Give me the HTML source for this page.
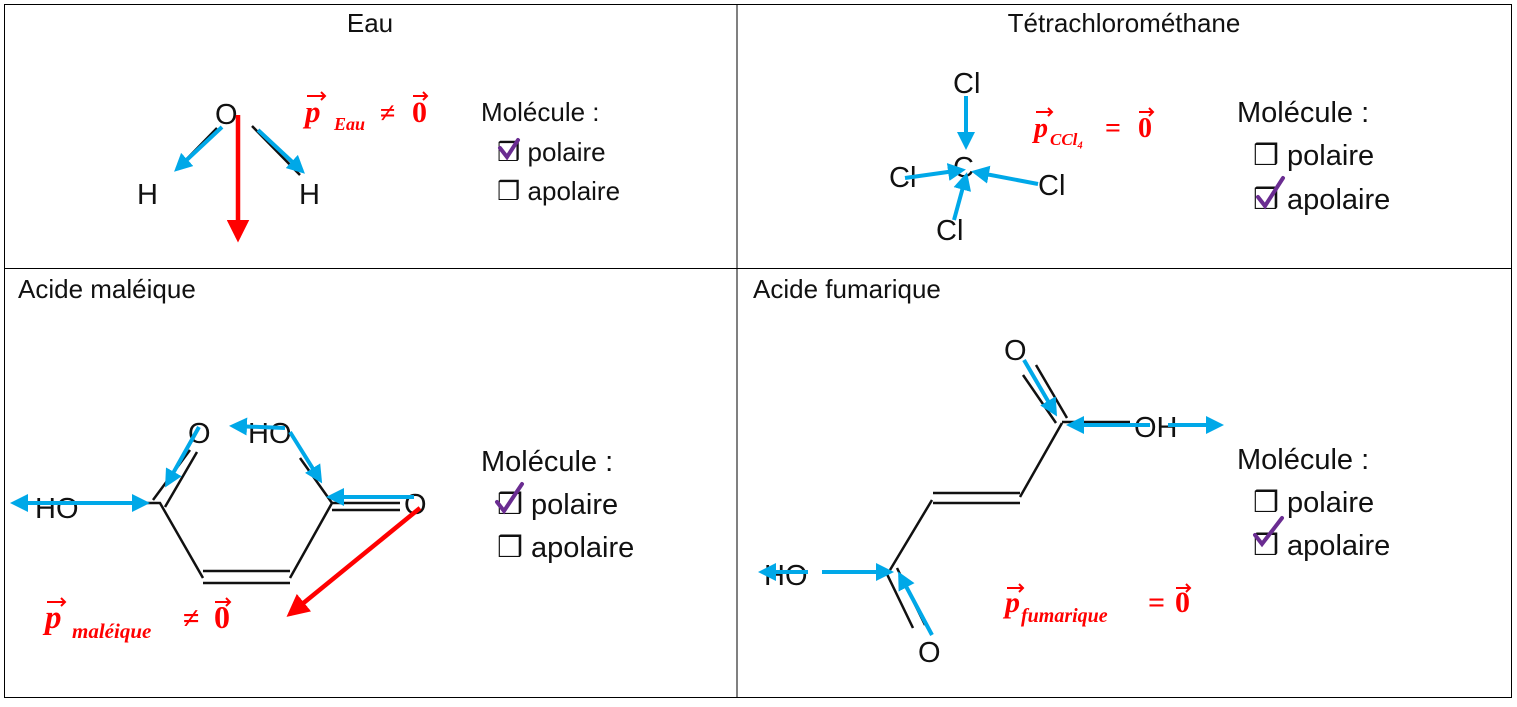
<!DOCTYPE html>
<html><head><meta charset="utf-8"><style>
body{margin:0;background:#fff}
svg text{font-family:"Liberation Sans",sans-serif}
.t{font-size:26px;fill:#111}
.a{font-family:"Liberation Sans",sans-serif;font-size:29px;fill:#111}
.f{font-family:"Liberation Serif",serif;font-weight:bold;font-style:italic;fill:#f00}
.n{font-family:"Liberation Serif",serif;font-weight:bold;fill:#f00}
.b{stroke:#111;stroke-width:2.5;fill:none}
.bl{stroke:#00a8e8;stroke-width:4;fill:none}
.r{stroke:#f00;stroke-width:4.5;fill:none}
.ck{stroke:#6a2c91;stroke-width:4;fill:none;stroke-linecap:round}
.ar{stroke:#f00;stroke-width:2;fill:none}
</style></head><body>
<svg width="1517" height="702" viewBox="0 0 1517 702" xmlns="http://www.w3.org/2000/svg">
<defs>
<marker id="mb" markerWidth="4.5" markerHeight="4.5" refX="3.5" refY="2.25" orient="auto" markerUnits="strokeWidth"><path d="M0,0L4.5,2.25L0,4.5z" fill="#00a8e8"/></marker>
<marker id="mr" markerWidth="5" markerHeight="5" refX="4" refY="2.5" orient="auto" markerUnits="strokeWidth"><path d="M0,0L5,2.5L0,5z" fill="#f00"/></marker>
</defs>
<rect x="4.5" y="4.5" width="1507" height="693" fill="none" stroke="#000" stroke-width="1"/>
<line x1="737" y1="4" x2="737" y2="697" stroke="#000"/>
<line x1="4" y1="268.5" x2="1511" y2="268.5" stroke="#000"/>
<g class="t">
<text x="370" y="32" text-anchor="middle">Eau</text>
<text x="1124" y="32" text-anchor="middle">Tétrachlorométhane</text>
<text x="18" y="298">Acide maléique</text>
<text x="753" y="298">Acide fumarique</text>
<text x="481" y="121">Molécule :</text>
<text x="497" y="161">❒ polaire</text>
<text x="497" y="200">❒ apolaire</text>
<text x="1237" y="122" font-size="29">Molécule :</text>
<text x="1253" y="165" font-size="29">❒ polaire</text>
<text x="1253" y="209" font-size="29">❒ apolaire</text>
<text x="481" y="471" font-size="29">Molécule :</text>
<text x="497" y="514" font-size="29">❒ polaire</text>
<text x="497" y="557" font-size="29">❒ apolaire</text>
<text x="1237" y="469" font-size="29">Molécule :</text>
<text x="1253" y="512" font-size="29">❒ polaire</text>
<text x="1253" y="555" font-size="29">❒ apolaire</text>
</g>
<path class="ck" d="M500,148L507,157L518,140"/>
<path class="ck" d="M1258,197L1265,206L1283,178"/>
<path class="ck" d="M497,502L504,511L522,484"/>
<path class="ck" d="M1255,535L1262,544L1282,518"/>
<!-- Eau -->
<g class="a"><text x="215" y="124">O</text><text x="137" y="204">H</text><text x="299" y="204">H</text></g>
<line class="b" x1="217" y1="128" x2="178" y2="168"/><line class="b" x1="252" y1="126" x2="300" y2="175"/>
<line class="bl" x1="222" y1="127" x2="177" y2="169" marker-end="url(#mb)"/>
<line class="bl" x1="258" y1="130" x2="302" y2="171" marker-end="url(#mb)"/>
<line class="r" x1="238" y1="115" x2="238" y2="238" marker-end="url(#mr)"/>
<text class="f" x="305" y="122" font-size="31">p</text><text class="f" x="334" y="130" font-size="18">Eau</text>
<text class="n" x="380" y="122" font-size="28">≠</text><text class="n" x="412" y="122" font-size="30">0</text>
<path class="ar" d="M307,96h18M321,92l4,4l-4,4M413,96h14M423,92l4,4l-4,4"/>
<!-- CCl4 -->
<g class="a"><text x="953" y="93">Cl</text><text x="953" y="177">C</text><text x="889" y="187">Cl</text><text x="1038" y="195">Cl</text><text x="936" y="240">Cl</text></g>
<line class="bl" x1="966" y1="96" x2="966" y2="146" marker-end="url(#mb)"/>
<line class="bl" x1="905" y1="178" x2="962" y2="170" marker-end="url(#mb)"/>
<line class="bl" x1="1038" y1="184" x2="975" y2="172" marker-end="url(#mb)"/>
<line class="bl" x1="954" y1="220" x2="966" y2="176" marker-end="url(#mb)"/>
<text class="f" x="1034" y="137" font-size="28">p</text><text class="f" x="1050" y="145" font-size="17">CCl₄</text>
<text class="n" x="1105" y="137" font-size="28">=</text><text class="n" x="1138" y="137" font-size="28">0</text>
<path class="ar" d="M1036,112h16M1048,108l4,4l-4,4M1139,112h14M1149,108l4,4l-4,4"/>
<!-- Maleic -->
<g class="a"><text x="188" y="443">O</text><text x="248" y="443">HO</text><text x="35" y="518">HO</text><text x="404" y="514">O</text></g>
<path class="b" d="M85,503H160L203,578M332,503L290,578M203,571H290M203,583H290M153,500L190,450M165,507L197,452M332,503L300,458M332,503H400M332,510H400"/>
<line class="bl" x1="78" y1="503" x2="14" y2="503" marker-end="url(#mb)"/>
<line class="bl" x1="78" y1="503" x2="146" y2="503" marker-end="url(#mb)"/>
<line class="bl" x1="199" y1="427" x2="167" y2="484" marker-end="url(#mb)"/>
<line class="bl" x1="285" y1="428" x2="233" y2="426" marker-end="url(#mb)"/>
<line class="bl" x1="290" y1="432" x2="320" y2="480" marker-end="url(#mb)"/>
<line class="bl" x1="414" y1="497" x2="330" y2="497" marker-end="url(#mb)"/>
<line class="r" x1="420" y1="508" x2="290" y2="614" marker-end="url(#mr)"/>
<text class="f" x="45" y="628" font-size="33">p</text><text class="f" x="72" y="638" font-size="21">maléique</text>
<text class="n" x="183" y="628" font-size="30">≠</text><text class="n" x="214" y="628" font-size="32">0</text>
<path class="ar" d="M47,602h18M61,598l4,4l-4,4M215,602h15M226,598l4,4l-4,4"/>
<!-- Fumaric -->
<g class="a"><text x="1004" y="360">O</text><text x="1134" y="437">OH</text><text x="764" y="585">HO</text><text x="918" y="662">O</text></g>
<path class="b" d="M1062,423L1020,497M933,493H1020M933,503H1020M932,500L890,570M1023,375L1056,423M1036,365L1067,418M1062,422H1130M822,572H890M885,570L913,628M897,568L925,625"/>
<line class="bl" x1="1024" y1="360" x2="1055" y2="413" marker-end="url(#mb)"/>
<line class="bl" x1="1150" y1="425" x2="1070" y2="425" marker-end="url(#mb)"/>
<line class="bl" x1="1168" y1="425" x2="1220" y2="425" marker-end="url(#mb)"/>
<line class="bl" x1="808" y1="572" x2="762" y2="572" marker-end="url(#mb)"/>
<line class="bl" x1="822" y1="572" x2="890" y2="572" marker-end="url(#mb)"/>
<line class="bl" x1="932" y1="635" x2="900" y2="575" marker-end="url(#mb)"/>
<text class="f" x="1005" y="612" font-size="30">p</text><text class="f" x="1021" y="622" font-size="20">fumarique</text>
<text class="n" x="1148" y="612" font-size="30">=</text><text class="n" x="1175" y="612" font-size="30">0</text>
<path class="ar" d="M1007,588h16M1019,584l4,4l-4,4M1176,588h14M1186,584l4,4l-4,4"/>
</svg>
</body></html>
